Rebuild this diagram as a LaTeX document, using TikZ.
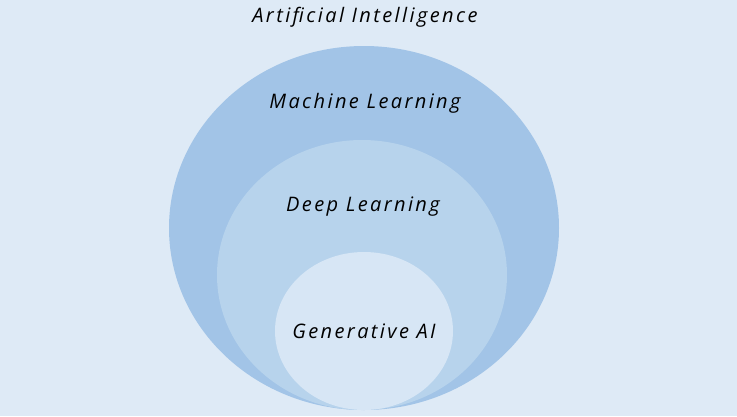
\documentclass[tikz,border=0pt]{standalone}
\usepackage{fontspec}
\setmainfont{Open Sans}
\newfontfamily\lblfont{Open Sans}[LetterSpace=12]
\definecolor{bgc}{HTML}{DEEAF6}
\definecolor{outerc}{HTML}{A2C4E7}
\definecolor{midc}{HTML}{B7D3EC}
\definecolor{innerc}{HTML}{D7E6F5}
\tikzset{
  lbl/.style={font=\lblfont\itshape\fontsize{20}{24}\selectfont, text=black, inner sep=0pt},
  ring/.style={draw=none}
}
\begin{document}
\begin{tikzpicture}[x=1pt,y=-1pt]
\fill[bgc] (0,0) rectangle (737,416);
\useasboundingbox (0,0) rectangle (737,416);
\fill[outerc] (364,228) ellipse [x radius=195, y radius=182];
\fill[midc] (362,275) ellipse [x radius=145, y radius=135];
\fill[innerc] (364,331) ellipse [x radius=89, y radius=79];
\node[lbl] (ai) at (365,17) {Artificial Intelligence};
\node[lbl] (ml) at (365,103) {Machine Learning};
\node[lbl] (dl) at (363,207) {Deep Learning};
\node[lbl] (gai) at (364,331) {Generative AI};
\end{tikzpicture}
\end{document}
